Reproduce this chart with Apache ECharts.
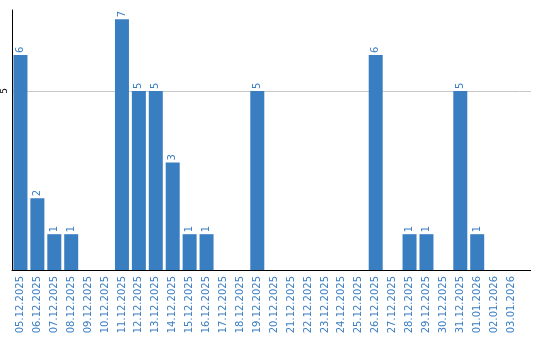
<!DOCTYPE html>
<html><head><meta charset="utf-8">
<script src="https://cdn.jsdelivr.net/npm/echarts@6/dist/echarts.min.js"></script>
<style>html,body{margin:0;padding:0;background:#fff}#c{width:540px;height:340px}</style>
</head><body><div id="c"></div>
<script>
const categories = ["05.12.2025","06.12.2025","07.12.2025","08.12.2025","09.12.2025","10.12.2025","11.12.2025","12.12.2025","13.12.2025","14.12.2025","15.12.2025","16.12.2025","17.12.2025","18.12.2025","19.12.2025","20.12.2025","21.12.2025","22.12.2025","23.12.2025","24.12.2025","25.12.2025","26.12.2025","27.12.2025","28.12.2025","29.12.2025","30.12.2025","31.12.2025","01.01.2026","02.01.2026","03.01.2026"];
const values = [6,2,1,1,0,0,7,5,5,3,1,1,0,0,5,0,0,0,0,0,0,6,0,1,1,0,5,1,0,0];
const yTick = 5;
const chart = echarts.init(document.getElementById('c'));
const gridLeft = 9.5, gridWidth = 510, gridTop = 10, gridBottom = 70, lineEnd = 531;
chart.setOption({
  animation:false,
  grid:{left:gridLeft,width:gridWidth,top:gridTop,bottom:gridBottom,containLabel:false},
  xAxis:{type:'category',data:categories,
    axisLine:{lineStyle:{color:'#000',width:1}},
    axisTick:{show:false},
    axisLabel:{rotate:90,color:'#3a7ec2',fontFamily:'DejaVu Sans',fontSize:10,interval:0,margin:6}},
  yAxis:{type:'value',min:0,max:7.26,interval:yTick,
    axisLine:{show:true,lineStyle:{color:'#000',width:1}},
    axisTick:{show:false},
    splitLine:{showMinLine:false,showMaxLine:false,lineStyle:{color:'#c8c8c8'}},
    axisLabel:{rotate:90,color:'#000',fontFamily:'DejaVu Sans',fontSize:9,margin:3,showMinLabel:false,showMaxLabel:false}},
  series:[{type:'bar',data:values,barWidth:14,itemStyle:{color:'#3a7ec2'},
    label:{show:true,position:'top',rotate:90,align:'left',verticalAlign:'middle',distance:2,color:'#3a7ec2',fontFamily:'DejaVu Sans',fontSize:10,
      formatter:p=>p.value>0?p.value:''}}]
});
// extend the x axis line and the gridline to the right edge of the drawing area
const x0 = gridLeft + gridWidth;
const yZero = Math.round(chart.convertToPixel({yAxisIndex:0}, 0)) + 0.5;
const yFive = Math.round(chart.convertToPixel({yAxisIndex:0}, yTick)) + 0.5;
chart.setOption({graphic:[
  {type:'line',shape:{x1:x0,y1:yFive,x2:lineEnd,y2:yFive},style:{stroke:'#c8c8c8',lineWidth:1},z:0},
  {type:'line',shape:{x1:x0-1,y1:yZero,x2:lineEnd,y2:yZero},style:{stroke:'#000',lineWidth:1},z:10}
]});
</script></body></html>
